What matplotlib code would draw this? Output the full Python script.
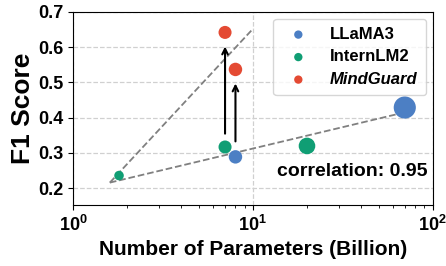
import matplotlib
matplotlib.use("Agg")
import matplotlib.pyplot as plt
import numpy as np

plt.rcParams['font.family'] = ['Liberation Sans', 'DejaVu Sans']
plt.rcParams['mathtext.fontset'] = 'custom'
plt.rcParams['mathtext.rm'] = 'Liberation Sans:bold'
plt.rcParams['mathtext.bf'] = 'Liberation Sans:bold'
plt.rcParams['mathtext.default'] = 'bf'

# data
llama_params = [8, 70]
llama_f1 = [0.289, 0.429]
intern_params = [1.8, 7, 20]
intern_f1 = [0.236, 0.317, 0.320]
mind_params = [7, 8]
mind_f1 = [0.642, 0.537]

# trend lines (endpoints)
trend_base_x = [1.6, 78]
trend_base_y = [0.216, 0.421]
trend_mind_x = [1.6, 10]
trend_mind_y = [0.216, 0.652]

# arrows (start, end)
arrow_x = [7, 8]
arrow_y0 = [0.347, 0.325]
arrow_y1 = [0.61, 0.505]

c_blue = '#4C7FC4'
c_green = '#109E74'
c_red = '#E44A33'

fig, ax = plt.subplots(figsize=(4.46, 2.66), dpi=100)
fig.subplots_adjust(left=0.164, right=0.970, top=0.955, bottom=0.23)

def sizes(p):
    return [36 * v ** 0.46 for v in p]

ax.plot(trend_base_x, trend_base_y, ls='--', color='gray', lw=1.3, zorder=2)
ax.plot(trend_mind_x, trend_mind_y, ls='--', color='gray', lw=1.3, zorder=2)

ax.scatter(llama_params, llama_f1, s=sizes(llama_params), color=c_blue, zorder=3, label='LLaMA3', edgecolors='none')
ax.scatter(intern_params, intern_f1, s=sizes(intern_params), color=c_green, zorder=3, label='InternLM2', edgecolors='none')
ax.scatter(mind_params, mind_f1, s=sizes(mind_params), color=c_red, zorder=3, label='MindGuard', edgecolors='none')

for x, y0, y1 in zip(arrow_x, arrow_y0, arrow_y1):
    ax.annotate('', xy=(x, y1), xytext=(x, y0),
                arrowprops=dict(arrowstyle='->', color='black', lw=1.5), zorder=4)

ax.set_xscale('log')
ax.set_xlim(1, 100)
ax.set_ylim(0.153, 0.7)
ax.set_yticks([0.2, 0.3, 0.4, 0.5, 0.6, 0.7])
ax.grid(True, which='major', ls='--', color='#d0d0d0', lw=0.9, zorder=0)
ax.set_axisbelow(True)

ax.set_xlabel('Number of Parameters (Billion)', fontsize=15, fontweight='bold')
ax.set_ylabel('F1 Score', fontsize=19, fontweight='bold', labelpad=2)
for lab in ax.get_xticklabels() + ax.get_yticklabels():
    lab.set_fontweight('bold')
ax.tick_params(axis='both', which='major', labelsize=13)

ax.text(0.985, 0.171, 'correlation: 0.95', transform=ax.transAxes, ha='right', va='center',
        fontsize=14, fontweight='bold')

leg = ax.legend(loc='upper right', prop={'weight': 'bold', 'size': 12},
                handletextpad=0.9, borderpad=0.5, labelspacing=0.45,
                scatterpoints=1, borderaxespad=0.4)
for h in leg.legend_handles:
    h.set_sizes([36])
leg.get_texts()[2].set_fontstyle('italic')

fig.savefig('out.png', dpi=100)
